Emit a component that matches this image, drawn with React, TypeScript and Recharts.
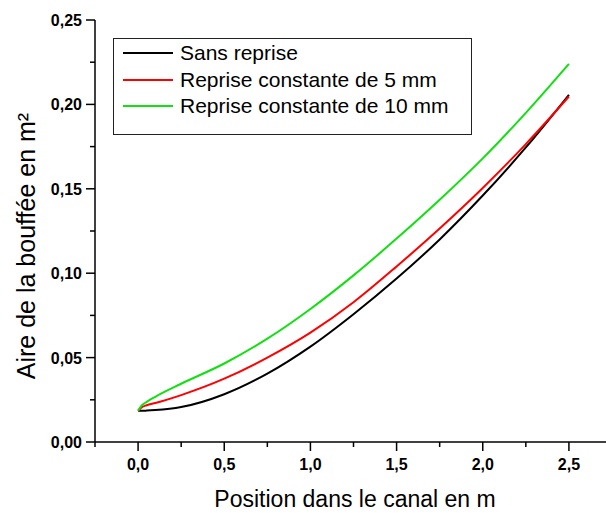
import React from 'react';
import { LineChart, Line, XAxis, YAxis, Legend, Label } from 'recharts';

// Position dans le canal (m)
const positions = [0, 0.02, 0.05, 0.1, 0.25, 0.5, 0.75, 1.0, 1.25, 1.5, 1.75, 2.0, 2.25, 2.5];
// Aire de la bouffée (m²)
const sansReprise = [0.0185, 0.0185, 0.0186, 0.0189, 0.0207, 0.0283, 0.0405, 0.0565, 0.0757, 0.0968, 0.12, 0.146, 0.1745, 0.2057];
const reprise5 = [0.0185, 0.0205, 0.0218, 0.0231, 0.0278, 0.0375, 0.05, 0.0648, 0.0828, 0.104, 0.1265, 0.1505, 0.1765, 0.2047];
const reprise10 = [0.0185, 0.0215, 0.0238, 0.0268, 0.0345, 0.0465, 0.0612, 0.0788, 0.0987, 0.1205, 0.1435, 0.168, 0.195, 0.224];

const seriesNames = ['Sans reprise', 'Reprise constante de 5 mm', 'Reprise constante de 10 mm'];
const seriesColors = ['#000000', '#ff0000', '#11e011'];

const xTicks = [-0.25, 0, 0.25, 0.5, 0.75, 1, 1.25, 1.5, 1.75, 2, 2.25, 2.5, 2.75];
const xLabelled = [0, 0.5, 1, 1.5, 2, 2.5];
const yTicks = [0, 0.025, 0.05, 0.075, 0.1, 0.125, 0.15, 0.175, 0.2, 0.225, 0.25];
const yLabelled = [0, 0.05, 0.1, 0.15, 0.2, 0.25];

const data = positions.map((x, i) => ({
  x,
  s0: sansReprise[i],
  s5: reprise5[i],
  s10: reprise10[i],
}));

const FONT = 'Arial, "Liberation Sans", sans-serif';

const isIn = (list: number[], v: number) => list.some((t) => Math.abs(t - v) < 1e-9);

const XTick = (props: any) => {
  const { x, y, payload } = props;
  const major = isIn(xLabelled, payload.value);
  return (
    <g>
      <line x1={x} x2={x} y1={y} y2={y + (major ? 9 : 5)} stroke="#000" strokeWidth={1.5} />
      {major && (
        <text x={x} y={y + 28} textAnchor="middle" fontFamily={FONT} fontWeight="bold" fontSize={16} fill="#000">
          {payload.value.toFixed(1).replace('.', ',')}
        </text>
      )}
    </g>
  );
};

const YTick = (props: any) => {
  const { x, y, payload } = props;
  const major = isIn(yLabelled, payload.value);
  return (
    <g>
      <line x1={x} x2={x - (major ? 9 : 5)} y1={y} y2={y} stroke="#000" strokeWidth={1.5} />
      {major && (
        <text x={x - 13} y={y + 6} textAnchor="end" fontFamily={FONT} fontWeight="bold" fontSize={16} fill="#000">
          {payload.value.toFixed(2).replace('.', ',')}
        </text>
      )}
    </g>
  );
};

const YTitle = () => (
  <text x={35} y={246} transform="rotate(-90 35 246)" textAnchor="middle" fontFamily={FONT} fontSize={25} fill="#000">
    Aire de la bouffée en m²
  </text>
);

const XTitle = () => (
  <text x={355} y={507} textAnchor="middle" fontFamily={FONT} fontSize={23} fill="#000">
    Position dans le canal en m
  </text>
);

const LegendBox = () => (
  <div
    style={{
      width: '100%',
      height: '100%',
      boxSizing: 'border-box',
      border: '1px solid #222',
      background: '#fff',
      paddingTop: 1,
      fontFamily: FONT,
      fontSize: 21,
      color: '#000',
    }}
  >
    {seriesNames.map((name, i) => (
      <div key={name} style={{ display: 'flex', alignItems: 'center', height: 26.4 }}>
        <svg width={62} height={10} style={{ flex: 'none' }}>
          <line x1={9} x2={59} y1={5} y2={5} stroke={seriesColors[i]} strokeWidth={2} />
        </svg>
        <span style={{ marginLeft: 4, whiteSpace: 'nowrap', lineHeight: '24px' }}>{name}</span>
      </div>
    ))}
  </div>
);

export default function App() {
  return (
    <div style={{ position: 'absolute', left: 0, top: 0, width: 606, height: 513, overflow: 'hidden', background: '#fff' }}>
      <LineChart width={620} height={513} data={data} margin={{ top: 20, right: 8, bottom: 11, left: 0 }}>
        <XAxis
          dataKey="x"
          type="number"
          domain={[-0.25, 2.75]}
          ticks={xTicks}
          interval={0}
          tickSize={0}
          tickMargin={0}
          tick={<XTick />}
          height={60}
          axisLine={{ stroke: '#000', strokeWidth: 1.5 }}
        >
          <Label content={<XTitle />} />
        </XAxis>
        <YAxis
          type="number"
          domain={[0, 0.25]}
          ticks={yTicks}
          interval={0}
          tickSize={0}
          tickMargin={0}
          tick={<YTick />}
          width={95}
          axisLine={{ stroke: '#000', strokeWidth: 1.5 }}
        >
          <Label content={<YTitle />} />
        </YAxis>
        <Legend
          layout="horizontal"
          verticalAlign="middle"
          align="center"
          wrapperStyle={{ left: 113, top: 38, width: 359, height: 97 }}
          content={<LegendBox />}
        />
        <Line type="monotone" dataKey="s0" name={seriesNames[0]} stroke={seriesColors[0]} strokeWidth={2} dot={false} isAnimationActive={false} />
        <Line type="monotone" dataKey="s5" name={seriesNames[1]} stroke={seriesColors[1]} strokeWidth={2} dot={false} isAnimationActive={false} />
        <Line type="monotone" dataKey="s10" name={seriesNames[2]} stroke={seriesColors[2]} strokeWidth={2} dot={false} isAnimationActive={false} />
      </LineChart>
    </div>
  );
}
